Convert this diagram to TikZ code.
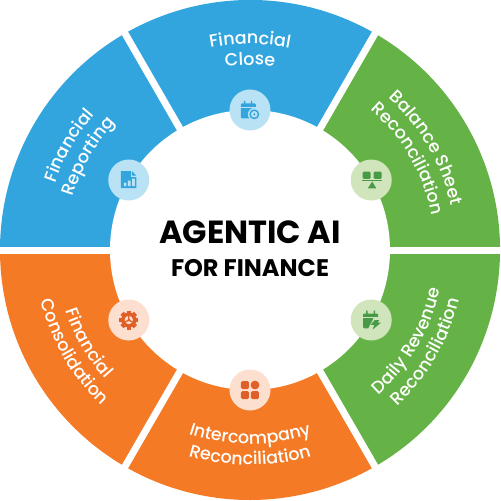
\documentclass[tikz,border=0pt]{standalone}
\usepackage{fontspec}
\usetikzlibrary{decorations.text}
\newfontfamily\pop{Poppins}
\newfontfamily\popm{Poppins Medium}
\definecolor{bluesec}{HTML}{33A5DE}
\definecolor{greensec}{HTML}{65B346}
\definecolor{orangesec}{HTML}{F57A25}
\definecolor{bluelt}{HTML}{B9E3F5}
\definecolor{greenlt}{HTML}{D1E5BC}
\definecolor{orangelt}{HTML}{FDDFCF}
\definecolor{blueic}{HTML}{33A5DD}
\definecolor{greenic}{HTML}{479B47}
\definecolor{orangeic}{HTML}{DF5F28}
\tikzset{
  arctext/.style={decorate,decoration={text along path,text align=center,
    text={|\fontsize{17.5}{17.5}\popm\color{white}|#1}}},
}
\newcommand{\sector}[3]{\fill[#1] (0,0) -- (#2:250) arc[start angle=#2,end angle=#3,radius=250] -- cycle;}
\begin{document}
\begin{tikzpicture}[x=1pt,y=1pt]
\useasboundingbox (-250,-251) rectangle (251,250);
\sector{bluesec}{60}{180}
\sector{greensec}{-60}{60}
\sector{orangesec}{180}{300}
\foreach \a in {0,60,...,300}{\draw[white,line width=7pt] (0,0) -- (\a:252);}
\fill[white] (0,0) circle[radius=140];
% labels
\path[arctext={Financial}] (118:206) arc[start angle=118,end angle=62,radius=206];
\path[arctext={Close}] (110:185) arc[start angle=110,end angle=70,radius=185];
\path[arctext={Financial}] (180:206) arc[start angle=180,end angle=120,radius=206];
\path[arctext={Reporting}] (180:185) arc[start angle=180,end angle=120,radius=185];
\path[arctext={Balance Sheet}] (62:206) arc[start angle=62,end angle=-2,radius=206];
\path[arctext={Reconciliation}] (62:185) arc[start angle=62,end angle=-2,radius=185];
\path[arctext={Daily Revenue}] (-62:194) arc[start angle=-62,end angle=2,radius=194];
\path[arctext={Reconciliation}] (-62:215) arc[start angle=-62,end angle=2,radius=215];
\path[arctext={Intercompany}] (238:194) arc[start angle=238,end angle=302,radius=194];
\path[arctext={Reconciliation}] (238:215) arc[start angle=238,end angle=302,radius=215];
\path[arctext={Financial}] (178:194) arc[start angle=178,end angle=242,radius=194];
\path[arctext={Consolidation}] (178:215) arc[start angle=178,end angle=242,radius=215];
% centre
\node[font=\fontsize{32}{32}\pop\bfseries,text=black,inner sep=0pt] (t1) at (0,18) {AGENTIC AI};
\node[font=\fontsize{24}{24}\pop\bfseries,text=black,inner sep=0pt] (t2) at (0,-18) {FOR FINANCE};
% icon discs
\fill[bluelt] (90:140) circle[radius=20.5];
\fill[bluelt] (150:140) circle[radius=20.5];
\fill[greenlt] (30:140) circle[radius=20.5];
\fill[greenlt] (-30:140) circle[radius=20.5];
\fill[orangelt] (210:140) circle[radius=20.5];
\fill[orangelt] (270:140) circle[radius=20.5];
% calendar + clock
\begin{scope}[shift={(90:140)}]
  \fill[blueic,rounded corners=1pt] (-9,6.5) rectangle (6,-8.5);
  \fill[bluelt] (-9,3) rectangle (6,2);
  \fill[blueic] (-6,4) rectangle (-4.6,9) (0.8,4) rectangle (2.2,9);
  \fill[bluelt] (4.3,-4.3) circle[radius=6.4];
  \fill[blueic] (4.3,-4.3) circle[radius=5];
  \fill[bluelt] (4.3,-4.3) circle[radius=3.3];
  \fill[blueic] (4.3,-4.3) circle[radius=1.2];
\end{scope}
% document + bars
\begin{scope}[shift={(150:140)}]
  \fill[blueic] (-8,9) -- (2,9) -- (2,3) -- (7.5,3) -- (7.5,-8) -- (-8,-8) -- cycle;
  \fill[blueic] (3.2,9) -- (7.5,4.3) -- (3.2,4.3) -- cycle;
  \fill[bluelt] (-5,-6) rectangle (-2.3,-2.5) (-0.8,-6) rectangle (1.9,-0.5) (3.4,-6) rectangle (6,1.5);
\end{scope}
% scale
\begin{scope}[shift={(30:140)}]
  \fill[greenic,rounded corners=1pt] (-8.5,8.3) rectangle (-0.6,1.2);
  \fill[greenic,rounded corners=1pt] (2.5,8.3) rectangle (10.4,1.2);
  \fill[greenic] (-9,-0.2) rectangle (10.8,-1.2);
  \fill[greenic] (1,-1.5) -- (5,-8.3) -- (-3.5,-8.3) -- cycle;
\end{scope}
% calendar + lightning
\begin{scope}[shift={(-30:140)}]
  \fill[greenic,rounded corners=1pt] (-8,6.5) rectangle (7,-8.3);
  \fill[greenlt] (-8,3) rectangle (7,2);
  \fill[greenic] (-5,5) rectangle (-3.7,9.5) (2.5,5) rectangle (3.8,9.5);
  \fill[greenlt] (2.5,2) -- (-3,-8.6) -- (8,-11) -- (12,2) -- cycle;
  \fill[greenic] (3.5,0) -- (-0.5,-4.8) -- (3,-4.8) -- (1.5,-9.5) -- (10,-2.5) -- (6.5,-2.5) -- (8,0) -- cycle;
\end{scope}
% gear
\begin{scope}[shift={(210:140)}]
  \foreach \a in {0,45,...,315}{\fill[orangeic,rotate=\a] (-2.2,6) rectangle (2.2,9.5);}
  \fill[orangeic] (0,0) circle[radius=7.6];
  \fill[orangelt] (0,0) circle[radius=4.2];
  \fill[orangeic] (0,0) circle[radius=1.5];
  \draw[orangeic,line width=1.3pt] (0,0) -- (0,5) (0,0) -- (-4.3,-2.5) (0,0) -- (4.3,-2.5);
\end{scope}
% squares
\begin{scope}[shift={(270:140)}]
  \fill[orangeic,rounded corners=1.5pt] (-9,9) rectangle (-1,1);
  \fill[orangeic] (5,5) circle[radius=4.4];
  \fill[orangeic,rounded corners=1.5pt] (-9,-1) rectangle (-1,-9);
  \fill[orangeic,rounded corners=1.5pt] (1,-1) rectangle (9,-9);
\end{scope}
\end{tikzpicture}
\end{document}
